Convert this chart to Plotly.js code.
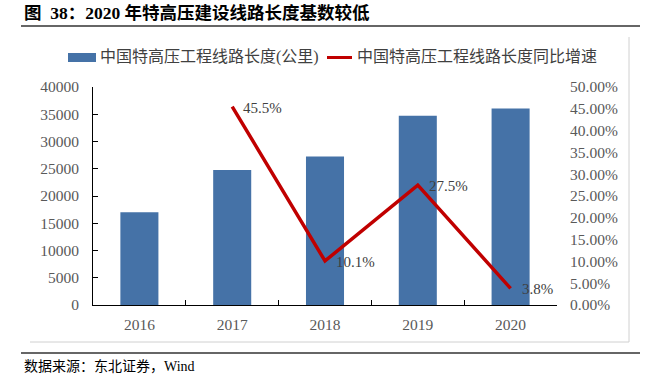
<!DOCTYPE html>
<html>
<head>
<meta charset="utf-8">
<script src="https://cdn.plot.ly/plotly-3.0.1.min.js"></script>
<style>html,body{margin:0;padding:0;background:#fff;}#chart{width:648px;height:386px;}</style>
</head>
<body>
<div id="chart"></div>
<script>
// ---- data ----
const years = ['2016', '2017', '2018', '2019', '2020'];
const lengthKm = [17000, 24750, 27250, 34740, 36060];
const growthYears = ['2017', '2018', '2019', '2020'];
const growthRate = [0.455, 0.101, 0.275, 0.038];
const growthLabels = ['45.5%', '10.1%', '27.5%', '3.8%'];
const seriesNames = ['中国特高压工程线路长度(公里)', '中国特高压工程线路长度同比增速'];
const titleText = '图\u00a0 38：2020 年特高压建设线路长度基数较低';
const sourceText = '数据来源：东北证券，Wind';

// ---- geometry ----
const W = 648, H = 386;
const L = 93, R = 557, T = 87, B = 305;
const px = x => (x - L) / (R - L);
const py = y => (B - y) / (B - T);

const serif = 'Liberation Serif, Noto Sans CJK SC, serif';
const barColor = '#4572A7';
const lineColor = '#C00000';
const tickColor = '#595959';

const traces = [
  {
    type: 'bar', x: years, y: lengthKm, name: seriesNames[0],
    marker: {color: barColor}, width: 0.41, showlegend: false, hoverinfo: 'skip'
  },
  {
    type: 'scatter', mode: 'lines', x: growthYears, y: growthRate, yaxis: 'y2',
    name: seriesNames[1], line: {color: lineColor, width: 3.5}, showlegend: false, hoverinfo: 'skip'
  }
];

const annotations = growthYears.map((yr, i) => ({
  x: years.indexOf(yr), y: growthRate[i], xref: 'x', yref: 'y2', text: growthLabels[i],
  showarrow: false, xanchor: 'left', yanchor: 'middle', xshift: 9, yshift: -1,
  font: {family: serif, size: 15, color: '#404040'}
}));

annotations.push(
  {x: px(22), y: py(13), xref: 'paper', yref: 'paper', text: '<b>' + titleText + '</b>',
   showarrow: false, xanchor: 'left', yanchor: 'middle', font: {family: serif, size: 17.5, color: '#000'}},
  {x: px(22), y: py(366), xref: 'paper', yref: 'paper', text: sourceText,
   showarrow: false, xanchor: 'left', yanchor: 'middle', font: {family: serif, size: 14, color: '#000'}},
  {x: px(98), y: py(57), xref: 'paper', yref: 'paper', text: seriesNames[0],
   showarrow: false, xanchor: 'left', yanchor: 'middle', font: {family: serif, size: 16, color: '#404040'}},
  {x: px(355), y: py(57), xref: 'paper', yref: 'paper', text: seriesNames[1],
   showarrow: false, xanchor: 'left', yanchor: 'middle', font: {family: serif, size: 16, color: '#404040'}}
);

const shapes = [
  {type: 'line', xref: 'paper', yref: 'paper', x0: px(21), x1: px(640), y0: py(26), y1: py(26), line: {color: '#333', width: 1.5}},
  {type: 'line', xref: 'paper', yref: 'paper', x0: px(21), x1: px(640), y0: py(353), y1: py(353), line: {color: '#666', width: 2}},
  {type: 'line', xref: 'paper', yref: 'paper', x0: px(30), x1: px(629), y0: py(342), y1: py(342), line: {color: '#D0D0D0', width: 1}},
  {type: 'line', xref: 'paper', yref: 'paper', x0: px(629), x1: px(629), y0: py(37), y1: py(342), line: {color: '#D0D0D0', width: 1}},
  {type: 'rect', xref: 'paper', yref: 'paper', x0: px(68), x1: px(96), y0: py(53), y1: py(62), fillcolor: barColor, line: {width: 0}},
  {type: 'line', xref: 'paper', yref: 'paper', x0: px(327), x1: px(352), y0: py(57.5), y1: py(57.5), line: {color: lineColor, width: 3}}
];

const layout = {
  width: W, height: H,
  margin: {l: L, r: W - R, t: T, b: H - B, pad: 0},
  paper_bgcolor: '#fff', plot_bgcolor: '#fff',
  showlegend: false,
  font: {family: serif, size: 15, color: tickColor},
  xaxis: {
    type: 'category', categoryorder: 'array', categoryarray: years,
    range: [-0.5, years.length - 0.5], autorange: false,
    showline: true, linecolor: '#000', linewidth: 1,
    ticks: 'inside', tickson: 'boundaries', ticklen: 5, tickcolor: '#000',
    showgrid: false, zeroline: false, tickangle: 0, ticklabelstandoff: 5,
    tickfont: {family: serif, size: 15.5, color: tickColor}
  },
  yaxis: {
    range: [0, 40000], autorange: false, dtick: 5000, tickformat: 'd',
    showline: true, linecolor: '#000', linewidth: 1,
    ticks: 'inside', ticklen: 5, tickcolor: '#000', showgrid: false, zeroline: false,
    ticklabelstandoff: 10, tickfont: {family: serif, size: 15.5, color: tickColor}
  },
  yaxis2: {
    overlaying: 'y', side: 'right', range: [0, 0.5], autorange: false, dtick: 0.05, tickformat: '.2%',
    showline: false, ticks: '', showgrid: false, zeroline: false,
    ticklabelstandoff: 12, tickfont: {family: serif, size: 15.5, color: tickColor}
  },
  annotations: annotations,
  shapes: shapes
};

Plotly.newPlot('chart', traces, layout, {staticPlot: true, displayModeBar: false});
</script>
</body>
</html>
